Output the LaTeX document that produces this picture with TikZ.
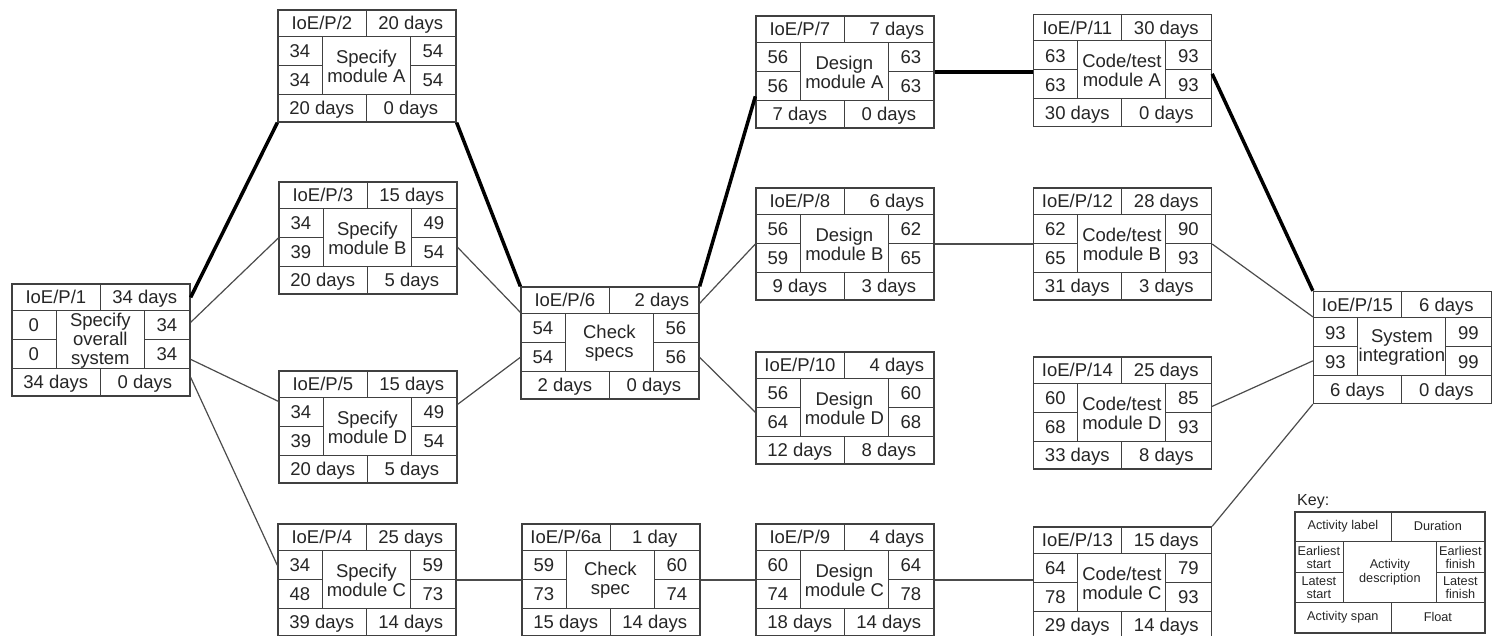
\documentclass[tikz,border=0pt]{standalone}
\usepackage{fontspec}
\setmainfont{Liberation Sans}
\usetikzlibrary{calc}
\tikzset{
  x=1pt, y=-1pt,
  actbox/.style={draw=black!75, line width=1.3pt, minimum width=178pt, minimum height=112pt, inner sep=0pt, fill=white},
  keybox/.style={draw=black!75, line width=1.3pt, minimum width=190pt, minimum height=121pt, inner sep=0pt, fill=white},
  cellline/.style={draw=black!75, line width=1.1pt},
  txt/.style={font=\fontsize{18.5}{19}\selectfont, text=black!85, inner sep=0pt, align=center, text height=13.2pt, text depth=0pt},
  desc/.style={font=\fontsize{18.5}{19}\selectfont, text=black!85, inner sep=0pt, align=center},
  keytxt/.style={font=\fontsize{12.7}{13.5}\selectfont, text=black!85, inner sep=0pt, align=center},
  conn/.style={draw=black!70, line width=1.2pt},
  crit/.style={draw=black, line width=3.5pt},
  durr/.style={anchor=east, xshift=35.5pt},
}
\newcommand\actbox[9]{%
  \node[actbox] (#1) at (#2) {};
  \begin{scope}[shift={(#1.north west)}]
    \draw[cellline] (0,27) -- (178,27) (0,85) -- (178,85)
      (45,27) -- (45,85) (133,27) -- (133,85)
      (0,56) -- (45,56) (133,56) -- (178,56)
      (89,0) -- (89,27) (89,85) -- (89,112);
    \node[txt] at (44.5,14) {#3};
    \node[txt,#4] at (133.5,14) {#5};
    \node[txt] at (22.5,42) {#6};
    \node[txt] at (155.5,42) {#7};
    \node[txt] at (22.5,71) {#8};
    \node[txt] at (155.5,71) {#9};
  \end{scope}
  \actboxrest{#1}}
\newcommand\actboxrest[4]{%
  \begin{scope}[shift={(#1.north west)}]
    \node[desc] at (89,57) {#2};
    \node[txt] at (44.5,99) {#3};
    \node[txt] at (133.5,99) {#4};
  \end{scope}}
\begin{document}
\begin{tikzpicture}
\useasboundingbox[fill=white] (0,0) rectangle (1499,635);
% activity boxes
\actbox{b1}{101,340}{IoE/P/1}{}{34 days}{0}{34}{0}{34}{Specify\\overall\\system}{34 days}{0 days}
\actbox{b2}{367,66}{IoE/P/2}{}{20 days}{34}{54}{34}{54}{Specify\\module A}{20 days}{0 days}
\actbox{b3}{368,238}{IoE/P/3}{}{15 days}{34}{49}{39}{54}{Specify\\module B}{20 days}{5 days}
\actbox{b5}{368,427}{IoE/P/5}{}{15 days}{34}{49}{39}{54}{Specify\\module D}{20 days}{5 days}
\actbox{b4}{367,580}{IoE/P/4}{}{25 days}{34}{59}{48}{73}{Specify\\module C}{39 days}{14 days}
\actbox{b6}{610,343}{IoE/P/6}{durr}{2 days}{54}{56}{54}{56}{Check\\specs}{2 days}{0 days}
\actbox{b6a}{611,580}{IoE/P/6a}{}{1 day}{59}{60}{73}{74}{Check\\spec}{15 days}{14 days}
\actbox{b7}{845,72}{IoE/P/7}{durr}{7 days}{56}{63}{56}{63}{Design\\module A}{7 days}{0 days}
\actbox{b8}{845,244}{IoE/P/8}{durr}{6 days}{56}{62}{59}{65}{Design\\module B}{9 days}{3 days}
\actbox{b10}{845,408}{IoE/P/10}{durr}{4 days}{56}{60}{64}{68}{Design\\module D}{12 days}{8 days}
\actbox{b9}{845,580}{IoE/P/9}{durr}{4 days}{60}{64}{74}{78}{Design\\module C}{18 days}{14 days}
\actbox{b11}{1122.5,70.5}{IoE/P/11}{}{30 days}{63}{93}{63}{93}{Code/test\\module A}{30 days}{0 days}
\actbox{b12}{1122.5,244}{IoE/P/12}{}{28 days}{62}{90}{65}{93}{Code/test\\module B}{31 days}{3 days}
\actbox{b14}{1122.5,413}{IoE/P/14}{}{25 days}{60}{85}{68}{93}{Code/test\\module D}{33 days}{8 days}
\actbox{b13}{1122.5,583}{IoE/P/13}{}{15 days}{64}{79}{78}{93}{Code/test\\module C}{29 days}{14 days}
\actbox{b15}{1402.5,347.5}{IoE/P/15}{}{6 days}{93}{99}{93}{99}{System\\integration}{6 days}{0 days}
% critical path
\draw[crit] ($(b1.north east)+(0,14)$) -- (b2.south west);
\draw[crit] (b2.south east) -- (b6.north west);
\draw[crit] (b6.north east) -- ($(b7.north west)+(0,81)$);
\draw[crit] (b7.east) -- (b7.east -| b11.west);
\draw[crit] ($(b11.north east)+(0,60)$) -- (b15.north west);
% other connectors
\draw[conn] ($(b1.north east)+(0,39)$) -- (b3.west);
\draw[conn] ($(b1.north east)+(0,76)$) -- ($(b5.north west)+(0,31)$);
\draw[conn] ($(b1.north east)+(0,94)$) -- ($(b4.north west)+(0,42)$);
\draw[conn] ($(b3.north east)+(0,66)$) -- ($(b6.north west)+(0,26)$);
\draw[conn] ($(b5.north east)+(0,34)$) -- ($(b6.north west)+(0,71)$);
\draw[conn] (b4.east) -- (b6a.west);
\draw[conn] (b6a.east) -- (b9.west);
\draw[conn] (b9.east) -- (b9.east -| b13.west);
\draw[conn] ($(b6.north east)+(0,17)$) -- (b8.west);
\draw[conn] ($(b6.north east)+(0,71)$) -- ($(b10.north west)+(0,61)$);
\draw[conn] (b8.east) -- (b12.west);
\draw[conn] ($(b10.north east)+(0,60)$) -- ($(b10.north east)+(0,60)$ -| b14.west);
\draw[conn] (b12.east) -- ($(b15.north west)+(0,26)$);
\draw[conn] ($(b14.north east)+(0,50)$) -- ($(b15.north west)+(0,70)$);
\draw[conn] (b13.north east) -- (b15.south west);
% key
\node[font=\fontsize{16}{16}\selectfont, text=black!85, inner sep=0pt, anchor=west, text height=11.5pt, text depth=0pt] (keylabel) at (1297,500) {Key:};
\node[keybox] (key) at (1390,572.5) {};
\begin{scope}[shift={(key.north west)}]
  \draw[cellline] (0,30) -- (190,30) (0,91) -- (190,91)
    (49,30) -- (49,91) (142,30) -- (142,91)
    (0,61) -- (49,61) (142,61) -- (190,61)
    (97,0) -- (97,30) (97,91) -- (97,121);
  \node[keytxt] (k1) at (48.5,15) {Activity label};
  \node[keytxt] (k2) at (143.5,15) {Duration};
  \node[keytxt] (k3) at (24.5,46) {Earliest\\start};
  \node[keytxt] (k4) at (24.5,76.5) {Latest\\start};
  \node[keytxt] (k5) at (166,46) {Earliest\\finish};
  \node[keytxt] (k6) at (166,76.5) {Latest\\finish};
  \node[keytxt] (k7) at (95.5,61) {Activity\\description};
  \node[keytxt] (k8) at (48.5,106) {Activity span};
  \node[keytxt] (k9) at (143.5,106) {Float};
\end{scope}
\end{tikzpicture}
\end{document}
